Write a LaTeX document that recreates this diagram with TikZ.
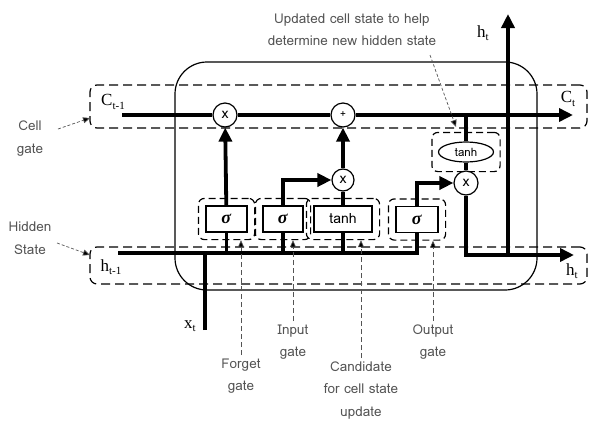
\documentclass[tikz,border=0pt]{standalone}
\usepackage{fontspec}
\setmainfont{Liberation Serif}
\newfontfamily\lomafont{Loma}
\usepackage{xcolor}
\usetikzlibrary{arrows.meta, shapes.geometric, fit}
\definecolor{notegray}{gray}{0.33}
\newcommand{\gsig}{\fontsize{18}{18}\selectfont\textbf{\textit{σ}}}
\newcommand{\lowsub}[1]{\raisebox{-0.2em}{\fontsize{11}{11}\selectfont #1}}

\begin{document}
\begin{tikzpicture}[x=1pt, y=-1pt, line cap=butt,
    flow/.style={line width=3.8pt},
    flowarrow/.style={line width=3.8pt, -{Triangle[length=14pt,width=13pt]}},
    opcircle/.style={circle, draw, line width=1.2pt, fill=white, minimum size=24pt, inner sep=0pt, font=\lomafont\fontsize{14}{14}\selectfont},
    gatebox/.style={rectangle, draw, line width=1.2pt, fill=white, minimum height=26pt, inner sep=0pt},
    gatewrap/.style={draw, line width=1.2pt, rounded corners=6pt, dash pattern=on 7pt off 4pt, inner sep=7pt},
    band/.style={draw, line width=1.2pt, rounded corners=7pt, dash pattern=on 9pt off 5pt, inner sep=0pt},
    note/.style={font=\lomafont\fontsize{13.5}{22.5}\selectfont, text=notegray, align=center},
    sym/.style={font=\fontsize{17}{17}\selectfont, inner sep=0pt},
    pointer/.style={notegray, line width=0.7pt, dash pattern=on 3pt off 2pt, -{Triangle[length=7pt,width=6pt,fill=black]}},
    gatepointer/.style={pointer, dash pattern=on 5pt off 3pt}
]
    \useasboundingbox (0,0) rectangle (589,421);

    % Coordinates
    \coordinate (cin)   at (122,115);
    \coordinate (cout)  at (573,115);
    \coordinate (hin)   at (118,253);
    \coordinate (hout)  at (574,255);
    \coordinate (xin)   at (205,330);
    \coordinate (ctap)  at (466,115);
    \coordinate (hbase) at (508,257);
    \coordinate (htop)  at (508,14);

    % Cell body and state bands
    \draw[line width=1.2pt, rounded corners=32pt] (175,62) rectangle (537,290);
    \node[band, minimum width=497pt, minimum height=43pt] (cellband) at (338.5,106.5) {};
    \node[band, minimum width=497pt, minimum height=37pt] (hidband) at (338.5,265.5) {};

    % Operators
    \node[opcircle] (fx) at (225,115) {x};
    \node[opcircle, font=\lomafont\fontsize{10}{10}\selectfont] (ax) at (343,115) {+};
    \node[opcircle, minimum size=22pt] (ix) at (343,180) {x};
    \node[opcircle] (ox) at (466,183) {x};

    % Gates
    \node[gatebox, minimum width=41pt] (fg) at (226.5,219) {\gsig};
    \node[gatebox, minimum width=40pt] (ig) at (283,219) {\gsig};
    \node[gatebox, minimum width=58pt, font=\lomafont\fontsize{14}{14}\selectfont] (cg) at (343,219) {tanh};
    \node[gatebox, minimum width=42pt] (og) at (417,219.5) {\gsig};
    \node[gatewrap, fit=(fg)] (fgwrap) {};
    \node[gatewrap, fit=(ig)] (igwrap) {};
    \node[gatewrap, fit=(cg)] (cgwrap) {};
    \node[gatewrap, fit=(og)] (ogwrap) {};

    % tanh of the new cell state
    \node[ellipse, draw, line width=1.2pt, minimum width=55pt, minimum height=20pt, inner sep=0pt,
          font=\lomafont\fontsize{11.5}{11.5}\selectfont] (th) at (466,152) {tanh};
    \node[gatewrap, inner xsep=6pt, inner ysep=9pt, fit=(th)] (thwrap) {};

    % ---- Cell state line ----
    \draw[flowarrow] (cin) -- (fx) -- (ax) -- (cout);

    % ---- Hidden state and input ----
    \draw[flow] (xin) -- (xin |- hin);
    \draw[flow] (hin) -| (og);
    \draw[flow] (fg.south |- hin) -- (fg);
    \draw[flow] (ig.south |- hin) -- (ig);
    \draw[flow] (cg.south |- hin) -- (cg);

    % ---- Gates up to the operators ----
    \draw[flowarrow] (fg) -- (fx);
    \draw[flowarrow] (ig) |- (ix);
    \draw[flow] (cg) -- (ix);
    \draw[flowarrow] (ix) -- (ax);
    \draw[flowarrow] (og) |- (ox);

    % ---- Output ----
    \draw[flow] (ctap) -- (th);
    \draw[flow] (th) -- (ox);
    \draw[flowarrow] (ox) |- (hout);
    \draw[flowarrow] (hbase) -- (htop);

    % Labels
    \node[sym] (ctm1) at (113,102) {C\lowsub{t-1}};
    \node[sym] (ct)   at (568,99)  {C\lowsub{t}};
    \node[sym] (htm1) at (111,267) {h\lowsub{t-1}};
    \node[sym] (ht)   at (572,271) {h\lowsub{t}};
    \node[sym] (htup) at (483,33)  {h\lowsub{t}};
    \node[sym] (xt)   at (190,326) {x\lowsub{t}};

    % Notes
    \node[note] (celllbl) at (30,138.5)  {Cell\\gate};
    \node[note] (hidlbl)  at (30,238)    {Hidden\\State};
    \node[note] (updlbl)  at (352,29.5)  {Updated cell state to help\\determine new hidden state};
    \node[note, anchor=north] (fglbl) at (241,355) {Forget\\gate};
    \node[note, anchor=north] (iglbl) at (293,321) {Input\\gate};
    \node[note, anchor=north] (cglbl) at (361,358) {Candidate\\for cell state\\update};
    \node[note, anchor=north] (oglbl) at (433,321) {Output\\gate};

    % ---- Pointers ----
    \coordinate (cellfrom) at (58,129);
    \coordinate (celltip)  at (90,118);
    \coordinate (hidfrom)  at (57,243);
    \coordinate (hidtip)   at (90,255);
    \coordinate (updfrom)  at (430,55);
    \coordinate (updtip)   at (456,127);
    \draw[pointer] (cellfrom) -- (celltip);
    \draw[pointer] (hidfrom) -- (hidtip);
    \draw[pointer] (updfrom) -- (updtip);
    \draw[gatepointer] (fglbl.north) -- (fglbl.north |- fgwrap.south);
    \draw[gatepointer] (iglbl.north) -- (iglbl.north |- igwrap.south);
    \draw[gatepointer] (cglbl.north) -- (cglbl.north |- cgwrap.south);
    \draw[gatepointer] (oglbl.north) -- (oglbl.north |- ogwrap.south);
\end{tikzpicture}
\end{document}
